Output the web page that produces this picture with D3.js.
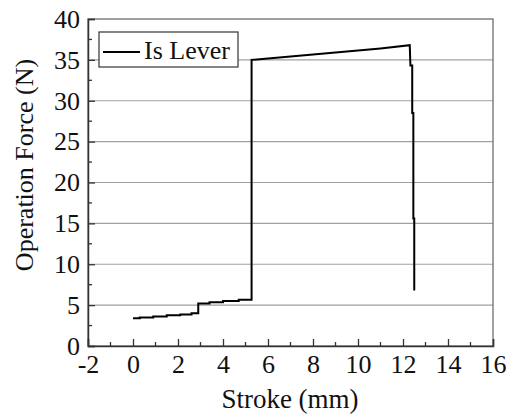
<!DOCTYPE html>
<html>
<head>
<meta charset="utf-8">
<script src="https://cdn.jsdelivr.net/npm/d3@7"></script>
</head>
<body style="margin:0">
<script>
// values
var stroke = [0, 0.3, 0.3, 0.9, 0.9, 1.5, 1.5, 2.1, 2.1, 2.6, 2.6, 2.9, 2.9, 3.4, 3.4, 4.0, 4.0, 4.7, 4.7, 5.27,
  5.27, 7.0, 9.0, 11.0, 12.3, 12.33, 12.41, 12.41, 12.46, 12.46, 12.5, 12.5];
var force = [3.4, 3.4, 3.5, 3.5, 3.6, 3.6, 3.75, 3.75, 3.85, 3.85, 4.0, 4.0, 5.2, 5.2, 5.35, 5.35, 5.5, 5.5, 5.65, 5.65,
  35.0, 35.4, 35.9, 36.4, 36.8, 34.3, 34.3, 28.5, 28.5, 15.6, 15.6, 6.8];
var xTicks = [-2, 0, 2, 4, 6, 8, 10, 12, 14, 16];
var yTicks = [0, 5, 10, 15, 20, 25, 30, 35, 40];
var seriesName = "Is Lever";

var FONT = "'Liberation Serif'";

var width = 519, height = 416,
  margin = {top: 19, right: 26, bottom: 70, left: 88},
  w = width - margin.left - margin.right,
  h = height - margin.top - margin.bottom;

var svg = d3.select("body").append("svg")
  .attr("width", width)
  .attr("height", height);

var g = svg.append("g").attr("transform", "translate(" + margin.left + "," + margin.top + ")");

var x = d3.scaleLinear().domain([-2, 16]).range([0, w]);
var y = d3.scaleLinear().domain([0, 40]).range([h, 0]);

// hyphen for negatives, as in the original
var fmt = function (d) { return String(d); };

// horizontal grid
g.selectAll("line.grid")
  .data(yTicks.filter(function (d) { return d > 0 && d < 40; }))
  .enter().append("line")
  .attr("class", "grid")
  .attr("x1", 0).attr("x2", w)
  .attr("y1", function (d) { return y(d); })
  .attr("y2", function (d) { return y(d); })
  .attr("stroke", "#a0a0a0")
  .attr("stroke-width", 1.2);

// frame
g.append("rect")
  .attr("width", w).attr("height", h)
  .attr("fill", "none")
  .attr("stroke", "#6e6e6e")
  .attr("stroke-width", 1.3);

// minor ticks
var xMinor = d3.range(-1, 16, 2);
var yMinor = d3.range(2.5, 40, 5);

var xAxis = g.append("g").attr("transform", "translate(0," + h + ")");
xAxis.call(d3.axisBottom(x).tickValues(xTicks).tickSize(-7).tickPadding(9).tickFormat(fmt));
xAxis.selectAll("line.minor").data(xMinor).enter().append("line")
  .attr("class", "minor")
  .attr("x1", function (d) { return x(d); }).attr("x2", function (d) { return x(d); })
  .attr("y1", 0).attr("y2", -4);

var yAxis = g.append("g");
yAxis.call(d3.axisLeft(y).tickValues(yTicks).tickSize(-7).tickPadding(8).tickFormat(fmt));
yAxis.selectAll("line.minor").data(yMinor).enter().append("line")
  .attr("class", "minor")
  .attr("y1", function (d) { return y(d); }).attr("y2", function (d) { return y(d); })
  .attr("x1", 0).attr("x2", 4);

[xAxis, yAxis].forEach(function (a) {
  a.attr("font-family", FONT).attr("font-size", 26);
  a.select(".domain").attr("stroke", "#333").attr("stroke-width", 1.5);
  a.selectAll("line").attr("stroke", "#333").attr("stroke-width", 1.3);
  a.selectAll("text")
    .attr("fill", "#111")
    .style("font-family", FONT, "important")
    .style("font-size", "26px");
});
xAxis.selectAll(".tick text").attr("dy", "0.71em");

// line
var pts = stroke.map(function (s, i) { return [s, force[i]]; });
g.append("path")
  .datum(pts)
  .attr("fill", "none")
  .attr("stroke", "#000")
  .attr("stroke-width", 2)
  .attr("d", d3.line().x(function (d) { return x(d[0]); }).y(function (d) { return y(d[1]); }));

// legend
var lg = g.append("g").attr("transform", "translate(11,13)");
lg.append("rect")
  .attr("width", 139).attr("height", 35)
  .attr("fill", "#fff")
  .attr("stroke", "#333")
  .attr("stroke-width", 1.2);
lg.append("line")
  .attr("x1", 4).attr("x2", 41)
  .attr("y1", 20).attr("y2", 20)
  .attr("stroke", "#000").attr("stroke-width", 2);
lg.append("text")
  .attr("x", 45).attr("y", 27)
  .style("font-family", FONT, "important")
  .style("font-size", "26px")
  .attr("fill", "#111")
  .text(seriesName);

// axis titles
svg.append("text")
  .attr("x", 290)
  .attr("y", 408)
  .attr("text-anchor", "middle")
  .style("font-family", FONT, "important")
  .style("font-size", "27px")
  .attr("fill", "#111")
  .text("Stroke (mm)");

svg.append("text")
  .attr("transform", "translate(33,165) rotate(-90)")
  .attr("text-anchor", "middle")
  .style("font-family", FONT, "important")
  .style("font-size", "26px")
  .attr("fill", "#111")
  .text("Operation Force (N)");
</script>
</body>
</html>
